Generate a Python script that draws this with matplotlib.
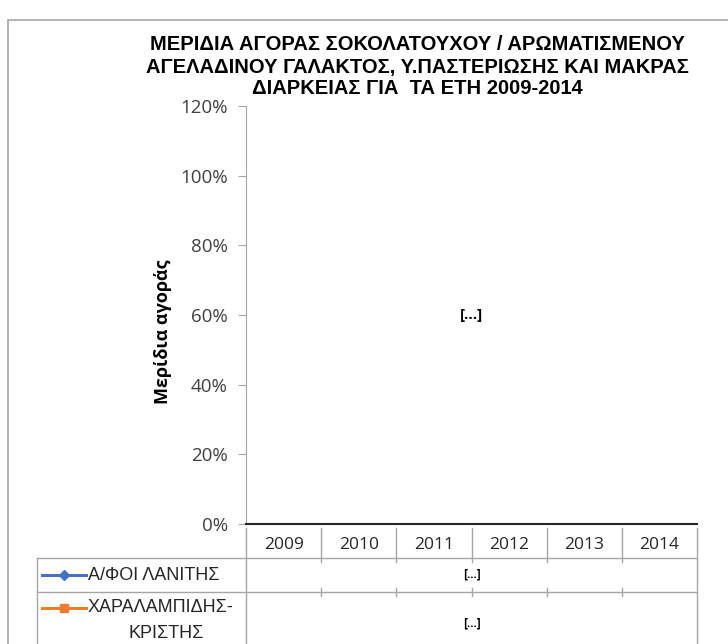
import matplotlib.pyplot as plt
from matplotlib.lines import Line2D
from matplotlib.patches import Rectangle

years = ['2009', '2010', '2011', '2012', '2013', '2014']
series_names = ['Α/ΦΟΙ ΛΑΝΙΤΗΣ', 'ΧΑΡΑΛΑΜΠΙΔΗΣ-\nΚΡΙΣΤΗΣ']
series_colors = ['#4472C4', '#ED7D31']
series_markers = ['D', 's']
series_values = ['[...]', '[...]']
y_ticks = [0, 0.2, 0.4, 0.6, 0.8, 1.0, 1.2]
plot_note = '[...]'
title = ('ΜΕΡΙΔΙΑ ΑΓΟΡΑΣ ΣΟΚΟΛΑΤΟΥΧΟΥ / ΑΡΩΜΑΤΙΣΜΕΝΟΥ\n'
         'ΑΓΕΛΑΔΙΝΟΥ ΓΑΛΑΚΤΟΣ, Υ.ΠΑΣΤΕΡΙΩΣΗΣ ΚΑΙ ΜΑΚΡΑΣ\n'
         'ΔΙΑΡΚΕΙΑΣ ΓΙΑ  ΤΑ ΕΤΗ 2009-2014')

W, H = 728, 644
narrow = ['Liberation Sans', 'DejaVu Sans']
body = ['Open Sans', 'DejaVu Sans']

fig = plt.figure(figsize=(W / 100, H / 100), dpi=100)


def fx(px):
    return px / W


def fy(py):
    return 1 - py / H


# outer chart border
fig.patches.append(Rectangle((fx(8), fy(700)), fx(740), fy(20) - fy(700),
                             transform=fig.transFigure, fill=False,
                             edgecolor='#A6A6A6', lw=1.2))

L, R, T, B = 246, 697, 106, 524
ax = fig.add_axes([fx(L), fy(B), fx(R) - fx(L), fy(T) - fy(B)])
ax.set_xlim(0, len(years))
ax.set_ylim(0, 1.2)
ax.set_yticks(y_ticks)
ax.set_yticklabels([f'{int(round(t * 100))}%' for t in y_ticks],
                   fontsize=13.5, family=body, color='#404040')
ax.tick_params(axis='y', length=6, color='#A6A6A6', pad=7)
ax.set_xticks([])
for side in ['top', 'right']:
    ax.spines[side].set_visible(False)
ax.spines['left'].set_color('#A6A6A6')
ax.spines['bottom'].set_color('#262626')
ax.spines['bottom'].set_linewidth(1.5)
ax.text(len(years) / 2, 0.6, plot_note, ha='center', va='center',
        fontsize=11, fontweight='bold', family=body)
ax.set_ylabel('Μερίδια αγοράς', fontsize=13, fontweight='bold', family=body)
ax.yaxis.set_label_coords(-0.165, 0.46)

fig.text(fx(417), fy(67), title, ha='center', va='center', fontsize=14.5,
         fontweight='bold', family=narrow, linespacing=1.2)

# data table
grid = '#A6A6A6'
row_top, row1, row2 = 528, 558, 592
col_w = (R - L) / len(years)


def hline(y, x0, x1, **kw):
    fig.add_artist(Line2D([fx(x0), fx(x1)], [fy(y), fy(y)],
                          transform=fig.transFigure, **kw))


def vline(x, y0, y1, **kw):
    fig.add_artist(Line2D([fx(x), fx(x)], [fy(y0), fy(y1)],
                          transform=fig.transFigure, **kw))


for i, yr in enumerate(years):
    fig.text(fx(L + col_w * (i + 0.5)), fy((row_top + row1) / 2 + 2), yr,
             ha='center', va='center', fontsize=12.5, family=body,
             color='#262626')
    if i > 0:
        xs = L + col_w * i
        vline(xs, row_top, row1 + 4, color=grid, lw=1)
        vline(xs, row2 - 4, row2 + 4, color=grid, lw=1)
vline(L, row_top, H + 5, color=grid, lw=1)
vline(R, row_top, H + 5, color=grid, lw=1)
vline(37, row1, H + 5, color=grid, lw=1)
hline(row1, 37, R, color=grid, lw=1)
hline(row2, 37, R, color=grid, lw=1)

key_ys = [row1 + 17, row2 + 16]
value_ys = [574, 623]
for name, col, mk, val, ky, vy in zip(series_names, series_colors,
                                      series_markers, series_values,
                                      key_ys, value_ys):
    fig.add_artist(Line2D([fx(42), fx(86)], [fy(ky), fy(ky)], color=col,
                          lw=2.2, transform=fig.transFigure))
    fig.add_artist(Line2D([fx(64)], [fy(ky)], color=col, marker=mk,
                          markersize=5.5, transform=fig.transFigure))
    lines = name.split('\n')
    fig.text(fx(88), fy(ky), lines[0], ha='left', va='center', fontsize=13,
             family=narrow, color='#262626')
    if len(lines) > 1:
        fig.text(fx(166), fy(ky + 26), lines[1], ha='center', va='center',
                 fontsize=13, family=narrow, color='#262626')
    fig.text(fx((L + R) / 2), fy(vy), val, ha='center', va='center',
             fontsize=8.5, fontweight='bold', family=body)

fig.savefig('out.png', dpi=100)
